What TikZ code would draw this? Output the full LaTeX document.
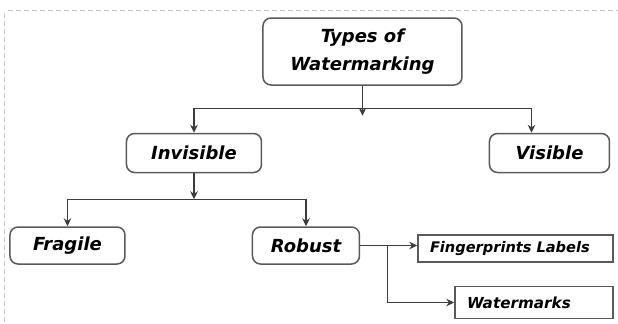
\documentclass[tikz,border=0pt]{standalone}
\usepackage{fontspec}
\newfontfamily\boxfont{DejaVu Sans}
\usetikzlibrary{arrows.meta,positioning}
\definecolor{framegray}{HTML}{C8C8C8}
\definecolor{edgegray}{HTML}{5A5A5A}
\definecolor{linegray}{HTML}{3C3C3C}

\begin{document}
\begin{tikzpicture}[
  box/.style={draw=edgegray, line width=0.75pt, rounded corners=4pt, inner sep=2pt,
              font=\boxfont\bfseries\itshape\fontsize{9}{14}\selectfont, align=center},
  leaf/.style={draw=edgegray, line width=0.75pt, inner ysep=1pt, inner xsep=6pt, align=left,
               font=\boxfont\bfseries\itshape\fontsize{7.3}{9}\selectfont},
  arr/.style={-{Stealth[length=4pt, width=3.8pt]}, line width=0.6pt, draw=linegray},
  frame/.style={draw=framegray, line width=0.5pt, dash pattern=on 2.5pt off 1.5pt}
]
  \useasboundingbox (0,0) rectangle (309pt,-161.5pt);
  \draw[frame] (4pt,-5pt) -- (309pt,-5pt);
  \draw[frame] (2.5pt,-6.5pt) -- (2.5pt,-161.5pt);

  \node[box, minimum width=99.5pt, minimum height=33.5pt] (types) at (181.25pt,-25.75pt) {Types of\\Watermarking};
  \node[box, minimum width=67.5pt, minimum height=19.5pt, below left=23.5pt and 0pt of types] (invis) {Invisible};
  \node[box, minimum width=60pt, minimum height=19.5pt, below right=23.5pt and 13pt of types] (vis) {Visible};
  \node[box, minimum width=57.5pt, minimum height=18.5pt, below left=26.5pt and 0pt of invis] (fragile) {Fragile};
  \node[box, minimum width=53.5pt, minimum height=18.5pt, right=63pt of fragile] (robust) {Robust};
  \node[leaf, text width=85.5pt, minimum height=13.5pt, right=28.5pt of robust, yshift=-1.5pt] (finger) {Fingerprints Labels};
  \node[leaf, text width=67pt, minimum height=16pt, below left=11.5pt and 0pt of finger.south east,
        font=\boxfont\bfseries\itshape\fontsize{7.6}{9}\selectfont] (wmarks) {Watermarks};

  % branching points
  \coordinate[below=11.5pt of types] (hub);
  \coordinate[below=13pt of invis] (hubinv);
  \coordinate[right=13.5pt of robust] (split);

  \draw[arr] (hub) -| (invis.north);
  \draw[arr] (hub) -| ([xshift=-9pt]vis.north);
  \draw[arr, shorten >=-3.5pt] (types.south) -- (hub);

  \draw[arr] (invis.south) -- (hubinv);
  \draw[arr] (hubinv) -| (fragile.north);
  \draw[arr] (hubinv) -| (robust.north);

  \draw[arr] (robust.east) -- (robust.east -| finger.west);
  \draw[arr] (split) |- (wmarks.west);
\end{tikzpicture}
\end{document}
